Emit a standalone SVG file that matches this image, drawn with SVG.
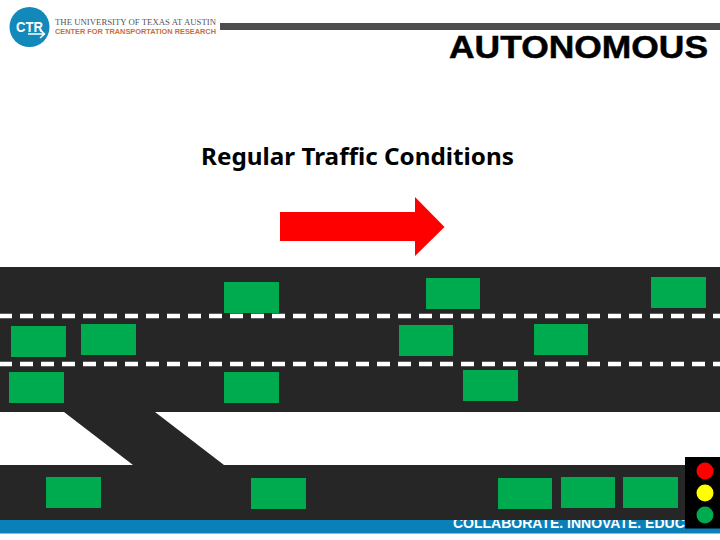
<svg xmlns="http://www.w3.org/2000/svg" width="720" height="540" viewBox="0 0 720 540">
<style>
.road{fill:#262626}
.car{fill:#00ab50}
.dash{fill:none;stroke:#fff;stroke-width:4.5;stroke-dasharray:13 8}
text{font-family:"Liberation Sans",Arial,sans-serif}
</style>
<rect width="720" height="540" fill="#fff"/>
<g id="header">
<circle cx="29.5" cy="27" r="20" fill="#1388ba"/>
<text x="16" y="32" font-size="15" font-weight="bold" fill="#fff" textLength="27" lengthAdjust="spacingAndGlyphs">CTR</text>
<path d="M28 34H44M40 30l4.500 4-4.500 4" fill="none" stroke="#fff" stroke-width="1.500"/>
<text x="55" y="25" font-size="7.500" fill="#555" textLength="161" lengthAdjust="spacingAndGlyphs" style="font-family:'Liberation Serif',serif">THE UNIVERSITY OF TEXAS AT AUSTIN</text>
<text x="55" y="33.500" font-size="6.500" font-weight="bold" fill="#c8703a" textLength="161" lengthAdjust="spacingAndGlyphs">CENTER FOR TRANSPORTATION RESEARCH</text>
<rect x="220" y="23" width="500" height="7" fill="#4d4d4d"/>
</g>
<text id="title" x="449" y="58" font-size="32" font-weight="bold" fill="#000" stroke="#000" stroke-width="0.500" textLength="259" lengthAdjust="spacingAndGlyphs">AUTONOMOUS</text>
<text id="subtitle" x="201" y="165" font-size="24" font-weight="bold" fill="#000" textLength="313" lengthAdjust="spacingAndGlyphs" style="font-family:'Noto Sans',sans-serif">Regular Traffic Conditions</text>
<polygon id="arrow" points="280,212 415,212 415,197 444.500,227 415,256 415,241 280,241" fill="#f00"/>
<g id="footer">
<rect x="0" y="520" width="720" height="13.500" fill="#0a80b8"/>
<text x="453" y="528" font-size="14" font-weight="bold" fill="#fff">COLLABORATE. INNOVATE. EDUCATE.</text>
</g>
<g id="roads">
<rect class="road" x="0" y="267" width="720" height="145"/>
<rect class="road" x="0" y="465" width="720" height="55"/>
<polygon class="road" points="64,412 155,412 224,465 133,465"/>
</g>
<g id="lane-lines">
<line class="dash" x1="-1" y1="316" x2="720" y2="316"/>
<line class="dash" x1="-1" y1="364" x2="720" y2="364"/>
</g>
<g id="cars">
<rect class="car" x="224" y="282" width="55" height="31"/>
<rect class="car" x="426" y="278" width="54" height="31"/>
<rect class="car" x="651" y="277" width="55" height="31"/>
<rect class="car" x="11" y="326" width="55" height="31"/>
<rect class="car" x="81" y="324" width="55" height="31"/>
<rect class="car" x="399" y="325" width="54" height="31"/>
<rect class="car" x="534" y="324" width="54" height="31"/>
<rect class="car" x="9" y="372" width="55" height="31"/>
<rect class="car" x="224" y="372" width="55" height="31"/>
<rect class="car" x="463" y="370" width="55" height="31"/>
<rect class="car" x="46" y="477" width="55" height="31"/>
<rect class="car" x="251" y="478" width="55" height="31"/>
<rect class="car" x="498" y="478" width="54" height="31"/>
<rect class="car" x="561" y="477" width="54" height="31"/>
<rect class="car" x="623" y="477" width="55" height="31"/>
</g>
<g id="traffic-light">
<rect x="685" y="457" width="35" height="71.500" fill="#000"/>
<circle cx="705" cy="471" r="8.500" fill="#f00"/>
<circle cx="705" cy="493" r="8.500" fill="#ff0"/>
<circle cx="705" cy="515" r="8.500" fill="#00ab50"/>
</g>
</svg>
